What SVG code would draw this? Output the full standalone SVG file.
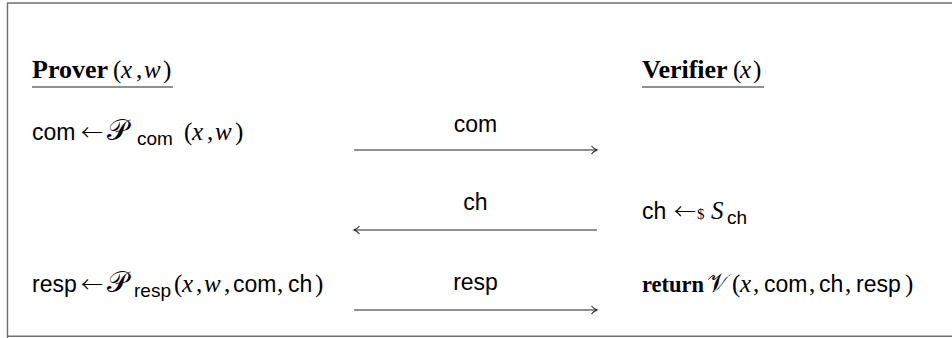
<svg xmlns="http://www.w3.org/2000/svg" width="952" height="338" viewBox="0 0 952 338">
<defs>
<style>
.sans{font-family:"Liberation Sans",Arial,sans-serif;font-size:23px;fill:#000}
.sub{font-family:"Liberation Sans",Arial,sans-serif;font-size:19px;fill:#000}
.ser{font-family:"Liberation Serif","Times New Roman",serif;font-size:25px;fill:#000}
.arr{font-family:"Noto Sans CJK SC","DejaVu Sans",sans-serif;font-size:22px;font-weight:300;fill:#000}
.it{font-style:italic}
.bold{font-family:"Liberation Serif","Times New Roman",serif;font-weight:bold;font-size:26px;fill:#000}
.scr{font-family:"DejaVu Serif","Noto Sans","Liberation Serif",serif;font-size:29px;fill:#000}
.ul{stroke:#222;stroke-width:1.2}
.msg{stroke:#222;stroke-width:1.1;fill:none}
</style>
<marker id="tip" markerUnits="userSpaceOnUse" markerWidth="10" markerHeight="10" refX="7" refY="5" orient="auto-start-reverse">
<path d="M1.5,1 Q4,4 7,5 Q4,6 1.5,9" fill="none" stroke="#222" stroke-width="1.1"/>
</marker>
</defs>
<rect x="0" y="0" width="952" height="338" fill="#fff"/>
<path d="M7.5,340 V3 H955 M7.5,336.3 H955" fill="none" stroke="#6f6f6f" stroke-width="1.4"/>

<g id="prover">
<text y="78"><tspan class="bold" x="32">Prover</tspan><tspan class="ser" x="113">(</tspan><tspan class="ser it" x="121">x</tspan><tspan class="ser" x="136">,</tspan><tspan class="ser it" x="144">w</tspan><tspan class="ser" x="163">)</tspan></text>
<line class="ul" x1="32" y1="87" x2="173" y2="87"/>
</g>
<g id="verifier">
<text y="78"><tspan class="bold" x="642">Verifier</tspan><tspan class="ser" x="733">(</tspan><tspan class="ser it" x="740">x</tspan><tspan class="ser" x="753">)</tspan></text>
<line class="ul" x1="642" y1="87" x2="764" y2="87"/>
</g>

<g id="prover-commit">
<text y="140"><tspan class="sans" x="32">com</tspan><tspan class="arr" x="81">←</tspan><tspan class="scr" x="107">𝒫</tspan><tspan class="sub" x="137" y="145">com</tspan><tspan class="ser" x="184" y="140">(</tspan><tspan class="ser it" x="192">x</tspan><tspan class="ser" x="207">,</tspan><tspan class="ser it" x="215">w</tspan><tspan class="ser" x="235">)</tspan></text>
</g>

<g id="verifier-challenge">
<text y="219"><tspan class="sans" x="642">ch</tspan><tspan class="arr" x="674">←</tspan><tspan class="ser" x="697" style="font-size:15px">$</tspan><tspan class="ser it" x="711">S</tspan><tspan class="sub" x="727" y="224">ch</tspan></text>
</g>

<g id="prover-response">
<text y="292"><tspan class="sans" x="32">resp</tspan><tspan class="arr" x="81">←</tspan><tspan class="scr" x="107">𝒫</tspan><tspan class="sub" x="134" y="297">resp</tspan><tspan class="ser" x="174" y="292">(</tspan><tspan class="ser it" x="182">x</tspan><tspan class="ser" x="196">,</tspan><tspan class="ser it" x="204">w</tspan><tspan class="ser" x="224">,</tspan><tspan class="sans" x="233">com</tspan><tspan class="ser" x="277">,</tspan><tspan class="sans" x="288">ch</tspan><tspan class="ser" x="315">)</tspan></text>
</g>

<g id="verifier-return">
<text y="292"><tspan class="bold" x="642" style="font-size:22.5px">return</tspan><tspan class="scr" x="707" style="font-size:26px">𝒱</tspan><tspan class="ser" x="732">(</tspan><tspan class="ser it" x="740">x</tspan><tspan class="ser" x="753">,</tspan><tspan class="sans" x="764">com</tspan><tspan class="ser" x="809">,</tspan><tspan class="sans" x="819">ch</tspan><tspan class="ser" x="845">,</tspan><tspan class="sans" x="856">resp</tspan><tspan class="ser" x="905">)</tspan></text>
</g>

<g id="connectors">
<line class="msg" x1="354" y1="150" x2="597" y2="150" marker-end="url(#tip)"/>
<text class="sans" x="475.5" y="132" text-anchor="middle">com</text>
<line class="msg" x1="354" y1="230" x2="597" y2="230" marker-start="url(#tip)"/>
<text class="sans" x="475.5" y="210" text-anchor="middle">ch</text>
<line class="msg" x1="354" y1="310" x2="597" y2="310" marker-end="url(#tip)"/>
<text class="sans" x="475.5" y="290" text-anchor="middle">resp</text>
</g>
</svg>
